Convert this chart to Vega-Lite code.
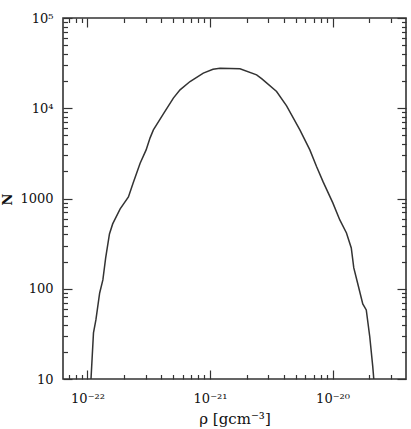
{
  "$schema": "https://vega.github.io/schema/vega-lite/v6.json",
  "width": 343,
  "height": 361,
  "autosize": {"type": "none"},
  "padding": {"left": 63, "top": 18, "right": 5, "bottom": 50},
  "background": "white",
  "config": {
    "view": {"stroke": "#333", "strokeWidth": 1.6},
    "axis": {
      "domain": false,
      "grid": false,
      "offset": 0,
      "tickColor": "#333",
      "tickWidth": 1.2,
      "labelFont": "DejaVu Serif",
      "labelFontSize": 13,
      "labelColor": "#111",
      "titleFont": "DejaVu Serif",
      "titleColor": "#111"
    }
  },
  "datasets": {
    "curve": [
      {"rho": 1.068e-22, "N": 10},
      {"rho": 1.119e-22, "N": 32.4},
      {"rho": 1.171e-22, "N": 45.1},
      {"rho": 1.257e-22, "N": 89.8},
      {"rho": 1.335e-22, "N": 125.2},
      {"rho": 1.407e-22, "N": 219.5},
      {"rho": 1.511e-22, "N": 405},
      {"rho": 1.605e-22, "N": 523},
      {"rho": 1.848e-22, "N": 767},
      {"rho": 2.158e-22, "N": 1041},
      {"rho": 2.358e-22, "N": 1489},
      {"rho": 2.689e-22, "N": 2463},
      {"rho": 3.010e-22, "N": 3457},
      {"rho": 3.243e-22, "N": 4697},
      {"rho": 3.450e-22, "N": 5761},
      {"rho": 4.163e-22, "N": 8667},
      {"rho": 5.022e-22, "N": 12942},
      {"rho": 5.694e-22, "N": 15996},
      {"rho": 6.871e-22, "N": 19770},
      {"rho": 8.818e-22, "N": 24490},
      {"rho": 1.058e-21, "N": 27000},
      {"rho": 1.206e-21, "N": 27700},
      {"rho": 1.756e-21, "N": 27340},
      {"rho": 2.402e-21, "N": 23460},
      {"rho": 2.653e-21, "N": 21180},
      {"rho": 3.496e-21, "N": 15315},
      {"rho": 4.218e-21, "N": 10630},
      {"rho": 5.414e-21, "N": 5761},
      {"rho": 6.531e-21, "N": 3457},
      {"rho": 7.406e-21, "N": 2258},
      {"rho": 8.384e-21, "N": 1528},
      {"rho": 1.006e-20, "N": 894},
      {"rho": 1.147e-20, "N": 579},
      {"rho": 1.300e-20, "N": 415},
      {"rho": 1.423e-20, "N": 283},
      {"rho": 1.492e-20, "N": 170},
      {"rho": 1.617e-20, "N": 110.2},
      {"rho": 1.766e-20, "N": 67.8},
      {"rho": 1.886e-20, "N": 58.2},
      {"rho": 2.014e-20, "N": 29.4},
      {"rho": 2.131e-20, "N": 13.7},
      {"rho": 2.172e-20, "N": 10}
    ]
  },
  "data": {"name": "curve"},
  "layer": [
    {
      "mark": {"type": "line", "stroke": "#333", "strokeWidth": 1.5, "clip": true},
      "encoding": {
        "x": {
          "field": "rho",
          "type": "quantitative",
          "scale": {"type": "log", "domain": [6.31e-23, 3.98e-20], "nice": false},
          "axis": {
            "orient": "bottom",
            "values": [1e-22, 1e-21, 1e-20],
            "labelExpr": "datum.value < 3e-22 ? '10⁻²²' : datum.value < 3e-21 ? '10⁻²¹' : '10⁻²⁰'",
            "tickSize": -9,
            "labelPadding": 22,
            "labelFlush": false,
            "labelOverlap": false,
            "title": "ρ [gcm⁻³]",
            "titleFontSize": 15,
            "titleFontWeight": "normal",
            "titleBaseline": "alphabetic",
            "titleY": 44
          }
        },
        "y": {
          "field": "N",
          "type": "quantitative",
          "scale": {"type": "log", "domain": [10, 100000], "nice": false},
          "axis": {
            "orient": "left",
            "values": [10, 100, 1000, 10000, 100000],
            "labelExpr": "datum.value < 50 ? '10' : datum.value < 500 ? '100' : datum.value < 5000 ? '1000' : datum.value < 50000 ? '10⁴' : '10⁵'",
            "tickSize": -9,
            "labelPadding": 19,
            "labelFlush": false,
            "labelOverlap": false,
            "title": "N",
            "titleFontSize": 13,
            "titleFontWeight": "bold",
            "titleAngle": -90,
            "titleBaseline": "middle",
            "titleX": -56,
            "titleY": 181
          }
        }
      }
    },
    {
      "mark": {"type": "line", "opacity": 0},
      "encoding": {
        "x": {
          "field": "rho",
          "type": "quantitative",
          "axis": {
            "orient": "bottom",
            "values": [7e-23, 8e-23, 9e-23, 2e-22, 3e-22, 4e-22, 5e-22, 6e-22, 7e-22, 8e-22, 9e-22, 2e-21, 3e-21, 4e-21, 5e-21, 6e-21, 7e-21, 8e-21, 9e-21, 2e-20, 3e-20],
            "labels": false,
            "title": null,
            "tickSize": -4.5
          }
        },
        "y": {
          "field": "N",
          "type": "quantitative",
          "axis": {
            "orient": "left",
            "values": [20, 30, 40, 50, 60, 70, 80, 90, 200, 300, 400, 500, 600, 700, 800, 900, 2000, 3000, 4000, 5000, 6000, 7000, 8000, 9000, 20000, 30000, 40000, 50000, 60000, 70000, 80000, 90000],
            "labels": false,
            "title": null,
            "tickSize": -4.5
          }
        }
      }
    },
    {
      "mark": {"type": "line", "opacity": 0},
      "encoding": {
        "x": {
          "field": "rho",
          "type": "quantitative",
          "axis": {
            "orient": "top",
            "values": [1e-22, 1e-21, 1e-20],
            "labels": false,
            "title": null,
            "tickSize": -9
          }
        },
        "y": {
          "field": "N",
          "type": "quantitative",
          "axis": {
            "orient": "right",
            "values": [10, 100, 1000, 10000, 100000],
            "labels": false,
            "title": null,
            "tickSize": -9
          }
        }
      }
    },
    {
      "mark": {"type": "line", "opacity": 0},
      "encoding": {
        "x": {
          "field": "rho",
          "type": "quantitative",
          "axis": {
            "orient": "top",
            "values": [7e-23, 8e-23, 9e-23, 2e-22, 3e-22, 4e-22, 5e-22, 6e-22, 7e-22, 8e-22, 9e-22, 2e-21, 3e-21, 4e-21, 5e-21, 6e-21, 7e-21, 8e-21, 9e-21, 2e-20, 3e-20],
            "labels": false,
            "title": null,
            "tickSize": -4.5
          }
        },
        "y": {
          "field": "N",
          "type": "quantitative",
          "axis": {
            "orient": "right",
            "values": [20, 30, 40, 50, 60, 70, 80, 90, 200, 300, 400, 500, 600, 700, 800, 900, 2000, 3000, 4000, 5000, 6000, 7000, 8000, 9000, 20000, 30000, 40000, 50000, 60000, 70000, 80000, 90000],
            "labels": false,
            "title": null,
            "tickSize": -4.5
          }
        }
      }
    }
  ],
  "resolve": {"axis": {"x": "independent", "y": "independent"}}
}
